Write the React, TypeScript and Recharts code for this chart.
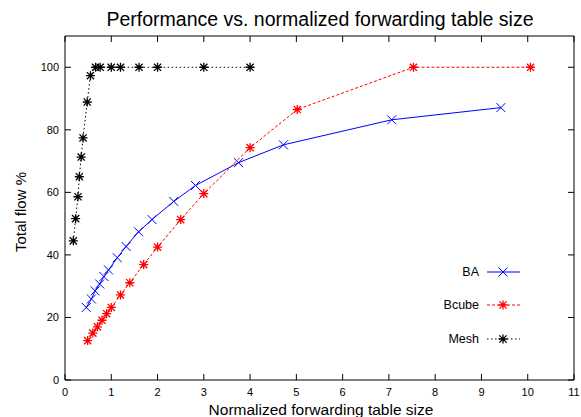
import React from 'react';
import { LineChart, Line, XAxis, YAxis, ReferenceArea, Label } from 'recharts';

// values
const baX = [0.46, 0.57, 0.65, 0.75, 0.84, 0.94, 1.13, 1.32, 1.59, 1.88, 2.35, 2.82, 3.75, 4.72, 7.06, 9.42];
const baY = [23.2, 25.9, 28.5, 30.7, 33.1, 35.2, 39.1, 42.7, 47.4, 51.3, 57.1, 62.2, 69.5, 75.2, 83.2, 87.1];

const bcubeX = [0.49, 0.6, 0.7, 0.8, 0.9, 1.0, 1.2, 1.4, 1.7, 2.0, 2.5, 3.0, 4.0, 5.02, 7.53, 10.06];
const bcubeY = [12.6, 15.0, 17.0, 19.1, 21.2, 23.2, 27.2, 31.1, 36.9, 42.5, 51.3, 59.6, 74.3, 86.5, 100, 100];

const meshX = [0.18, 0.23, 0.28, 0.31, 0.35, 0.39, 0.48, 0.55, 0.66, 0.76, 1.0, 1.2, 1.6, 2.0, 3.0, 4.0];
const meshY = [44.5, 51.6, 58.6, 65.0, 71.3, 77.4, 88.9, 97.3, 100, 100, 100, 100, 100, 100, 100, 100];

const xTicks = [0, 1, 2, 3, 4, 5, 6, 7, 8, 9, 10, 11];
const yTicks = [0, 20, 40, 60, 80, 100];

const W = 581;
const H = 417;
const PLOT_W = 509;
const PLOT_H = 344;
const FONT = '"Liberation Sans", Arial, sans-serif';

const toPoints = (xs: number[], ys: number[]) => xs.map((x, i) => ({ x, y: ys[i] }));
const baData = toPoints(baX, baY);
const bcubeData = toPoints(bcubeX, bcubeY);
const meshData = toPoints(meshX, meshY);

const Cross = ({ cx, cy, color }: { cx: number; cy: number; color: string }) => {
    const s = 4.5;
    return (
        <path d={`M${cx - s},${cy - s}L${cx + s},${cy + s}M${cx - s},${cy + s}L${cx + s},${cy - s}`} stroke={color} strokeWidth={1} fill="none" />
    );
};

const Star = ({ cx, cy, color }: { cx: number; cy: number; color: string }) => {
    const s = 4.5;
    const d = 3.6;
    return (
        <path
            d={`M${cx - s},${cy}L${cx + s},${cy}M${cx},${cy - s}L${cx},${cy + s}M${cx - d},${cy - d}L${cx + d},${cy + d}M${cx - d},${cy + d}L${cx + d},${cy - d}`}
            stroke={color}
            strokeWidth={1.3}
            fill="none"
        />
    );
};

const makeDot = (kind: 'cross' | 'star', color: string) => (props: any) => {
    const { cx, cy, index } = props;
    if (cx == null || cy == null) return <g key={index} />;
    return kind === 'cross'
        ? <Cross key={index} cx={cx} cy={cy} color={color} />
        : <Star key={index} cx={cx} cy={cy} color={color} />;
};

const XTick = (props: any) => {
    const { x, y, payload } = props;
    return (
        <g>
            <line x1={x} y1={y} x2={x} y2={y - 6} stroke="#000" />
            <line x1={x} y1={y - PLOT_H} x2={x} y2={y - PLOT_H + 6} stroke="#000" />
            <text x={x} y={y + 12} textAnchor="middle" dominantBaseline="central" fontSize={11} fontFamily={FONT} fill="#000">
                {payload.value}
            </text>
        </g>
    );
};

const YTick = (props: any) => {
    const { x, y, payload } = props;
    return (
        <g>
            <line x1={x} y1={y} x2={x + 6} y2={y} stroke="#000" />
            <line x1={x + PLOT_W} y1={y} x2={x + PLOT_W - 6} y2={y} stroke="#000" />
            <text x={x - 6} y={y} textAnchor="end" dominantBaseline="central" fontSize={11} fontFamily={FONT} fill="#000">
                {payload.value}
            </text>
        </g>
    );
};

const legendRows = [
    { name: 'BA', color: '#0000ff', dash: undefined, kind: 'cross' as const, y: 272 },
    { name: 'Bcube', color: '#ff0000', dash: '3 2', kind: 'star' as const, y: 305 },
    { name: 'Mesh', color: '#000000', dash: '1.5 2.5', kind: 'star' as const, y: 339 },
];

export default function App() {
    return (
        <div style={{ position: 'absolute', left: 0, top: 0, width: W, height: H, background: '#fff' }}>
            <LineChart width={W} height={H} margin={{ top: 36, right: 7, bottom: 17, left: 0 }}>
                <ReferenceArea x1={0} x2={11} y1={0} y2={110} fill="none" stroke="#000" strokeWidth={1} />
                <XAxis
                    type="number"
                    dataKey="x"
                    domain={[0, 11]}
                    ticks={xTicks}
                    height={20}
                    axisLine={false}
                    tickLine={false}
                    tickSize={0}
                    tickMargin={0}
                    tick={<XTick />}
                    interval={0}
                >
                    <Label
                        content={() => (
                            <text x={321} y={409} textAnchor="middle" dominantBaseline="central" fontSize={15.5} fontFamily={FONT} fill="#000">
                                Normalized forwarding table size
                            </text>
                        )}
                    />
                </XAxis>
                <YAxis
                    type="number"
                    dataKey="y"
                    domain={[0, 110]}
                    ticks={yTicks}
                    width={65}
                    axisLine={false}
                    tickLine={false}
                    tickSize={0}
                    tickMargin={0}
                    tick={<YTick />}
                    interval={0}
                >
                    <Label
                        content={() => (
                            <text x={20} y={212} transform="rotate(-90 20 212)" textAnchor="middle" dominantBaseline="central" fontSize={15} fontFamily={FONT} fill="#000">
                                Total flow %
                            </text>
                        )}
                    />
                </YAxis>
                <Line data={baData} dataKey="y" stroke="#0000ff" strokeWidth={1} dot={makeDot('cross', '#0000ff')} isAnimationActive={false} />
                <Line data={bcubeData} dataKey="y" stroke="#ff0000" strokeWidth={1} strokeDasharray="3 2" dot={makeDot('star', '#ff0000')} isAnimationActive={false} />
                <Line data={meshData} dataKey="y" stroke="#000000" strokeWidth={1} strokeDasharray="1.5 2.5" dot={makeDot('star', '#000000')} isAnimationActive={false} />
            </LineChart>
            <svg width={W} height={H} style={{ position: 'absolute', left: 0, top: 0, pointerEvents: 'none' }}>
                <text x={320} y={19} textAnchor="middle" dominantBaseline="central" fontSize={19.5} fontFamily={FONT} fill="#000">
                    Performance vs. normalized forwarding table size
                </text>
                {legendRows.map(r => (
                    <g key={r.name}>
                        <text x={479} y={r.y} textAnchor="end" dominantBaseline="central" fontSize={12.5} fontFamily={FONT} fill="#000">
                            {r.name}
                        </text>
                        <line x1={487} y1={r.y} x2={520} y2={r.y} stroke={r.color} strokeDasharray={r.dash} />
                        {r.kind === 'cross'
                            ? <Cross cx={503} cy={r.y} color={r.color} />
                            : <Star cx={503} cy={r.y} color={r.color} />}
                    </g>
                ))}
            </svg>
        </div>
    );
}
